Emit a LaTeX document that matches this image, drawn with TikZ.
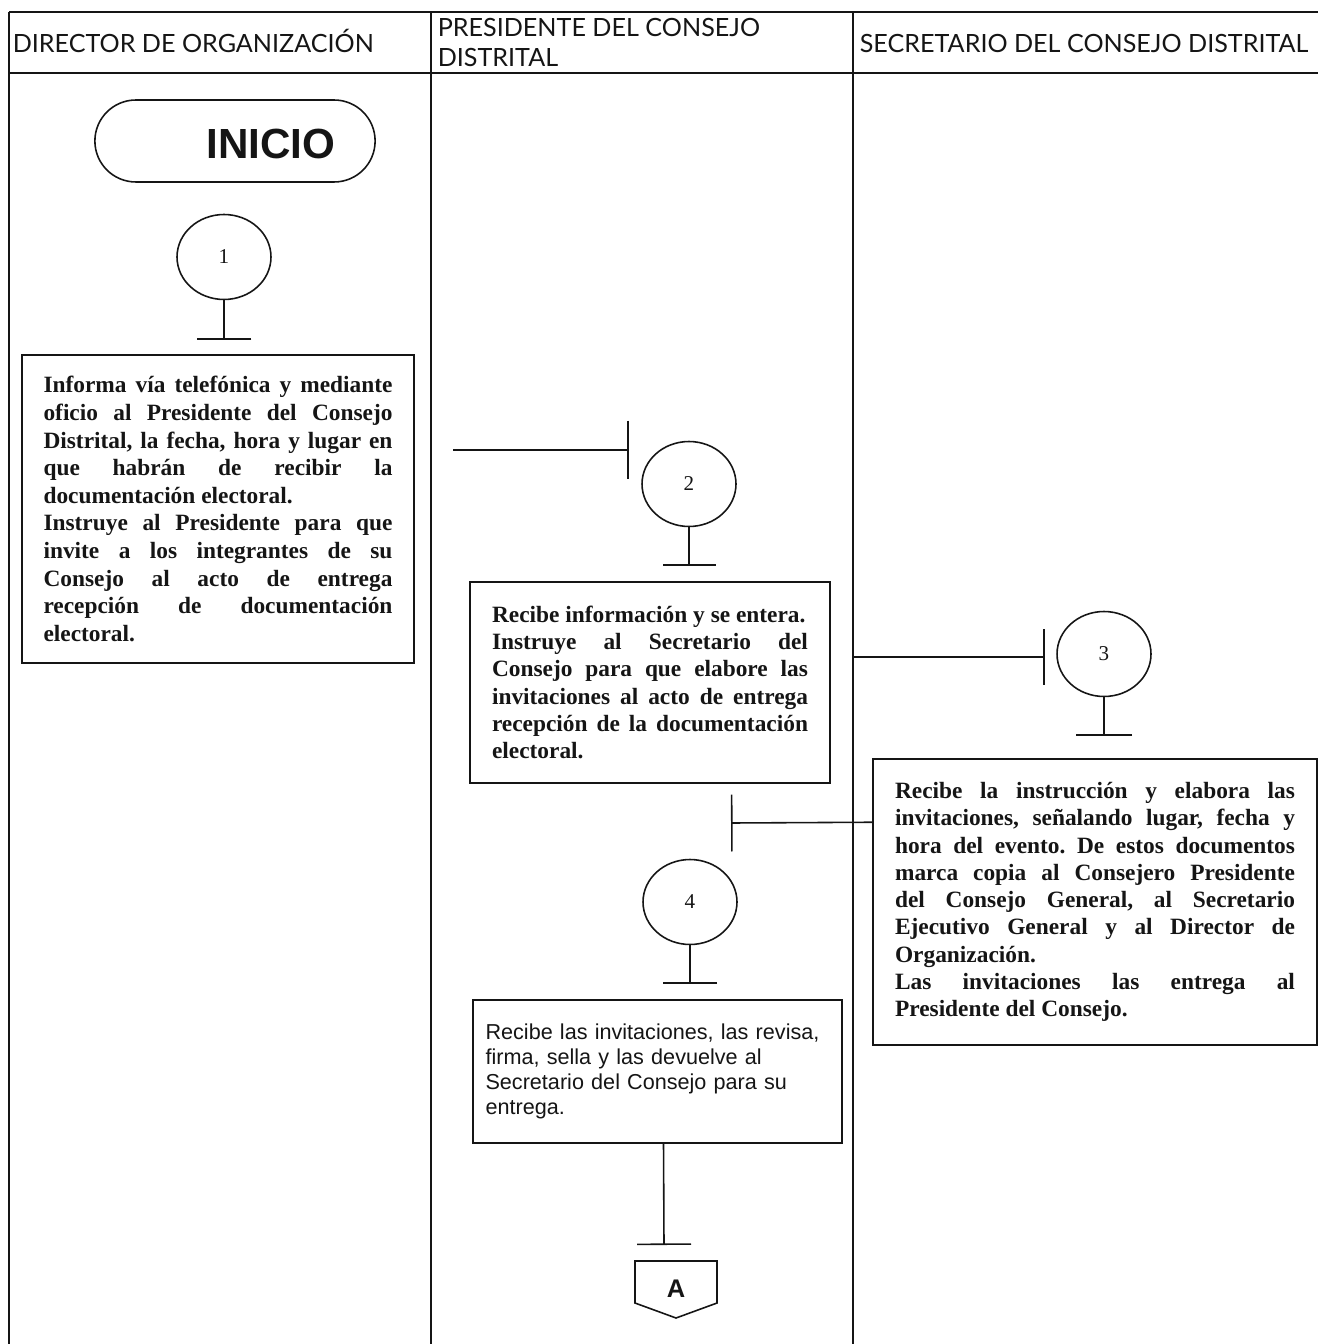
\documentclass[tikz,border=0pt]{standalone}
\usepackage{fontspec}
\setmainfont{Liberation Serif}
\newfontfamily\lanefont{Lato}
\newfontfamily\arialfont{Liberation Sans}
\usetikzlibrary{arrows.meta, positioning, calc, shapes.geometric, shapes.misc}
\definecolor{ink}{HTML}{151515}
\hyphenpenalty=10000
\exhyphenpenalty=10000
\frenchspacing

\begin{document}
\begin{tikzpicture}[x=0.02cm, y=-0.02cm, line width=0.9pt, color=ink,
  lane/.style={font=\lanefont\fontsize{14.3}{17.6}\selectfont, inner sep=0pt, anchor=base west, align=left},
  stepnum/.style={ellipse, draw, minimum width=1.88cm, minimum height=1.7cm, inner sep=0pt,
    font=\fontsize{12}{14}\selectfont},
  taskbox/.style={draw, align=justify, inner xsep=0.44cm,
    font=\bfseries\fontsize{13.3}{15.5}\selectfont},
  tbar/.style={-{Bar[width=#1, line width=0.9pt]}},
  tbar/.default=1.12cm]

% frame
\useasboundingbox (0,0) rectangle (1318,1344);
\draw (9,12) -- (1318,12);
\draw (9,73) -- (1318,73);
\draw (9,12) -- (9,1344);
\draw (431,12) -- (431,1344);
\draw (853,12) -- (853,1344);

% === lane titles ===
\node[lane] (laneDir) at (12,53) {DIRECTOR DE ORGANIZACIÓN};
\node[lane] (lanePres) at (437,67) {PRESIDENTE DEL CONSEJO\\DISTRITAL};
\node[lane] (laneSec) at (859,53) {SECRETARIO DEL CONSEJO DISTRITAL};

% === Director de Organizacion ===
\node[rounded rectangle, draw, minimum width=5.84cm, minimum height=1.64cm] (inicio) at (235,141) {};
\node[font=\arialfont\bfseries\fontsize{24}{28}\selectfont] (inicioText) at (271,144) {INICIO};

\node[stepnum] (c1) at (224,257) {1};
\node[taskbox, text width=6.98cm, inner xsep=0.43cm, minimum height=6.16cm,
      font=\bfseries\fontsize{13.3}{15.7}\selectfont] (b1) at (218,509)
  {Informa vía telefónica y mediante\linebreak
   oficio al Presidente del Consejo\linebreak
   Distrital, la fecha, hora y lugar en\linebreak
   que habrán de recibir la\linebreak
   documentación electoral.\par
   Instruye al Presidente para que\linebreak
   invite a los integrantes de su\linebreak
   Consejo al acto de entrega\linebreak
   recepción de documentación\linebreak
   electoral.};
\draw[tbar=1.1cm] (c1.south) -- (c1.south |- 0,340);

% === Presidente del Consejo Distrital ===
\coordinate (s2) at (453,450);
\node[stepnum] (c2) at (689,484) {2};
\draw[tbar=1.18cm] (s2) -- (629,450);
\node[taskbox, text width=6.32cm, minimum height=4.02cm] (b2) at (650,682.5)
  {Recibe información y se entera.\par
   Instruye al Secretario del\linebreak
   Consejo para que elabore las\linebreak
   invitaciones al acto de entrega\linebreak
   recepción de la documentación\linebreak
   electoral.};
\draw[tbar=1.06cm] (c2.south) -- (c2.south |- 0,566);

% === Secretario del Consejo Distrital ===
\coordinate (s3) at (853,657);
\node[stepnum] (c3) at (1104,654) {3};
\draw[tbar] (s3) -- (1045,657);
\draw[tbar] (c3.south) -- (c3.south |- 0,736);
\node[taskbox, text width=8.0cm, minimum height=5.72cm] (b3) at (1095,902)
  {Recibe la instrucción y elabora las\linebreak
   invitaciones, señalando lugar, fecha y\linebreak
   hora del evento. De estos documentos\linebreak
   marca copia al Consejero Presidente\linebreak
   del Consejo General, al Secretario\linebreak
   Ejecutivo General y al Director de\linebreak
   Organización.\par
   Las invitaciones las entrega al\linebreak
   Presidente del Consejo.};

% === back to Presidente ===
\draw[tbar=1.14cm] ($(b3.north west)+(0,64)$) -- (731,823);
\node[stepnum] (c4) at (690,902) {4};
\draw[tbar=1.08cm] (c4.south) -- (c4.south |- 0,984);
\node[draw, align=left, text width=6.88cm, inner xsep=0.25cm, minimum height=2.86cm,
      font=\arialfont\fontsize{12.3}{14.2}\selectfont] (b4) at (657.5,1071.5)
  {Recibe las invitaciones, las revisa,\\
   firma, sella y las devuelve al\\
   Secretario del Consejo para su\\
   entrega.};
\draw[tbar=1.08cm] ($(b4.south)+(6,0)$) -- (664,1245);

% off-page connector
\draw (635,1261) -- (717,1261) -- (717,1303) -- (676,1318) -- (635,1303) -- cycle;
\node[font=\arialfont\bfseries\fontsize{14.5}{16}\selectfont] (offA) at (676,1289) {A};

\end{tikzpicture}
\end{document}
